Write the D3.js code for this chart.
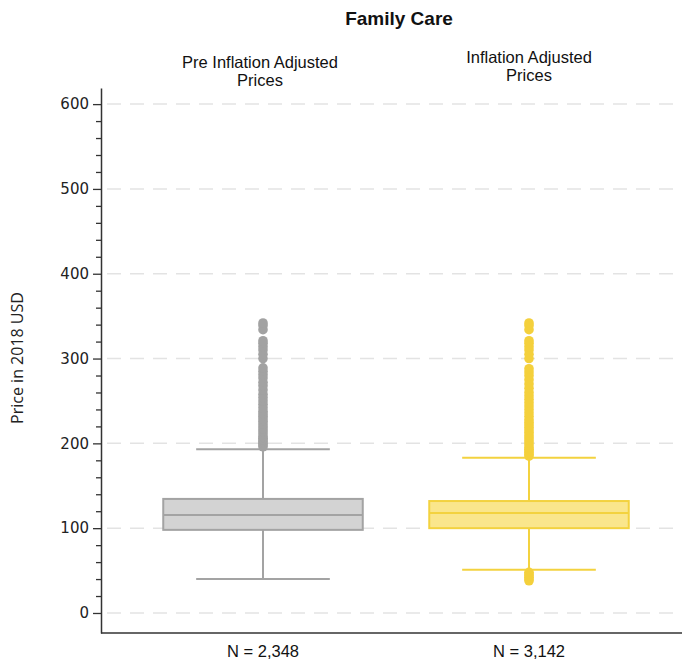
<!DOCTYPE html>
<html>
<head>
<meta charset="utf-8">
<script src="https://cdn.jsdelivr.net/npm/d3@7"></script>
<style>
  html, body { margin: 0; padding: 0; background: #fff; }
  svg { display: block; }
</style>
</head>
<body>
<div id="chart"></div>
<script>
// Box-plot summaries for family care prices (USD, 2018)
const categories = ["Pre Inflation Adjusted Prices", "Inflation Adjusted Prices"];
const headerLines = [["Pre Inflation Adjusted", "Prices"], ["Inflation Adjusted", "Prices"]];
const counts = ["N = 2,348", "N = 3,142"];
const lowerWhisker = [40, 51];
const q1 = [98, 100];
const median = [115.5, 118];
const q3 = [134.5, 132];
const upperWhisker = [193, 183];
const outliersPre = [196, 198, 200, 202, 204, 206, 208, 211, 214, 217, 220, 223, 226, 229, 232, 235, 238, 242, 246, 250, 254, 258, 263, 268, 272, 277, 281, 285, 289, 300, 305, 310, 314, 318, 321, 334, 339, 342];
const outliersAdj = [38, 40, 42, 44, 46, 48, 185, 187, 189, 191, 193, 195, 198, 201, 204, 207, 210, 213, 216, 219, 222, 225, 228, 232, 236, 240, 244, 248, 252, 256, 260, 265, 270, 275, 280, 284, 288, 300, 305, 310, 314, 318, 321, 334, 339, 342];
const outliers = [outliersPre, outliersAdj];
const yTicks = [0, 100, 200, 300, 400, 500, 600];

const strokeColors = ["#a3a3a3", "#f3d23f"];
const fillColors = ["#d3d3d3", "#fae68c"];
const dotColors = ["#a2a2a2", "#f4d03c"];

const W = 682, H = 660;
const svg = d3.select("#chart").append("svg").attr("width", W).attr("height", H);

const x = d3.scaleBand().domain(categories).range([130, 662]).paddingInner(0.25).paddingOuter(0.125);
const y = d3.scaleLinear().domain([-23.6, 619]).range([633, 88]);
const axisX = 101;

// dashed horizontal gridlines
svg.append("g").selectAll("line").data(yTicks).join("line")
  .attr("x1", axisX + 6).attr("x2", W)
  .attr("y1", d => y(d)).attr("y2", d => y(d))
  .attr("stroke", "#e3e3e3").attr("stroke-width", 1.5)
  .attr("stroke-dasharray", "14,9");

// y axis with major and minor ticks
const minorTicks = d3.range(20, 600, 20).filter(v => v % 100 !== 0);
const gMinor = svg.append("g").attr("transform", `translate(${axisX},0)`)
  .call(d3.axisLeft(y).tickValues(minorTicks).tickFormat("").tickSize(5));
gMinor.select(".domain").remove();
gMinor.selectAll("line").attr("stroke", "#333").attr("stroke-width", 1.3);

const gY = svg.append("g").attr("transform", `translate(${axisX},0)`)
  .call(d3.axisLeft(y).tickValues(yTicks).tickSize(8).tickPadding(4).tickSizeOuter(0));
gY.select(".domain").attr("stroke", "#333").attr("stroke-width", 1.5);
gY.selectAll(".tick line").attr("stroke", "#333").attr("stroke-width", 1.3);
gY.selectAll(".tick text").attr("font-family", "DejaVu Sans, sans-serif").attr("font-size", 15).attr("fill", "#222");

// x axis line
svg.append("line").attr("x1", axisX).attr("x2", W).attr("y1", y(-23.6)).attr("y2", y(-23.6))
  .attr("stroke", "#333").attr("stroke-width", 1.5);

// boxes
categories.forEach((c, i) => {
  const g = svg.append("g");
  const cx = x(c) + x.bandwidth() / 2;
  const bw = x.bandwidth();
  const capW = bw * 0.67;
  const sc = strokeColors[i];
  // whiskers
  g.append("line").attr("x1", cx).attr("x2", cx).attr("y1", y(q3[i])).attr("y2", y(upperWhisker[i]))
    .attr("stroke", sc).attr("stroke-width", 2);
  g.append("line").attr("x1", cx).attr("x2", cx).attr("y1", y(q1[i])).attr("y2", y(lowerWhisker[i]))
    .attr("stroke", sc).attr("stroke-width", 2);
  [upperWhisker[i], lowerWhisker[i]].forEach(v => {
    g.append("line").attr("x1", cx - capW / 2).attr("x2", cx + capW / 2).attr("y1", y(v)).attr("y2", y(v))
      .attr("stroke", sc).attr("stroke-width", 2);
  });
  g.append("rect").attr("x", x(c)).attr("width", bw)
    .attr("y", y(q3[i])).attr("height", y(q1[i]) - y(q3[i]))
    .attr("fill", fillColors[i]).attr("stroke", sc).attr("stroke-width", 2);
  g.append("line").attr("x1", x(c)).attr("x2", x(c) + bw).attr("y1", y(median[i])).attr("y2", y(median[i]))
    .attr("stroke", sc).attr("stroke-width", 2);
  g.selectAll("circle").data(outliers[i]).join("circle")
    .attr("cx", cx).attr("cy", d => y(d)).attr("r", 4.8)
    .attr("fill", dotColors[i]);

  // header labels
  const hdr = svg.append("text").attr("text-anchor", "middle")
    .attr("font-family", "Liberation Sans, Arial, sans-serif").attr("font-size", 16.5).attr("fill", "#111");
  const baseY = i === 0 ? 68 : 63;
  headerLines[i].forEach((t, k) => {
    hdr.append("tspan").attr("x", cx - (i === 0 ? 3 : 0)).attr("y", baseY + k * 17.5).text(t);
  });
  // counts
  svg.append("text").attr("x", cx).attr("y", 657).attr("text-anchor", "middle")
    .attr("font-family", "Liberation Sans, Arial, sans-serif").attr("font-size", 16.5).attr("fill", "#111")
    .text(counts[i]);
});

// title
svg.append("text").attr("x", 399).attr("y", 25).attr("text-anchor", "middle")
  .attr("font-family", "Liberation Sans, Arial, sans-serif").attr("font-weight", "bold")
  .attr("font-size", 19).attr("fill", "#111").text("Family Care");

// y axis title
svg.append("text").attr("transform", `translate(23,358) rotate(-90)`).attr("text-anchor", "middle")
  .attr("font-family", "Open Sans, sans-serif").attr("font-size", 16).attr("fill", "#222")
  .text("Price in 2018 USD");
</script>
</body>
</html>
